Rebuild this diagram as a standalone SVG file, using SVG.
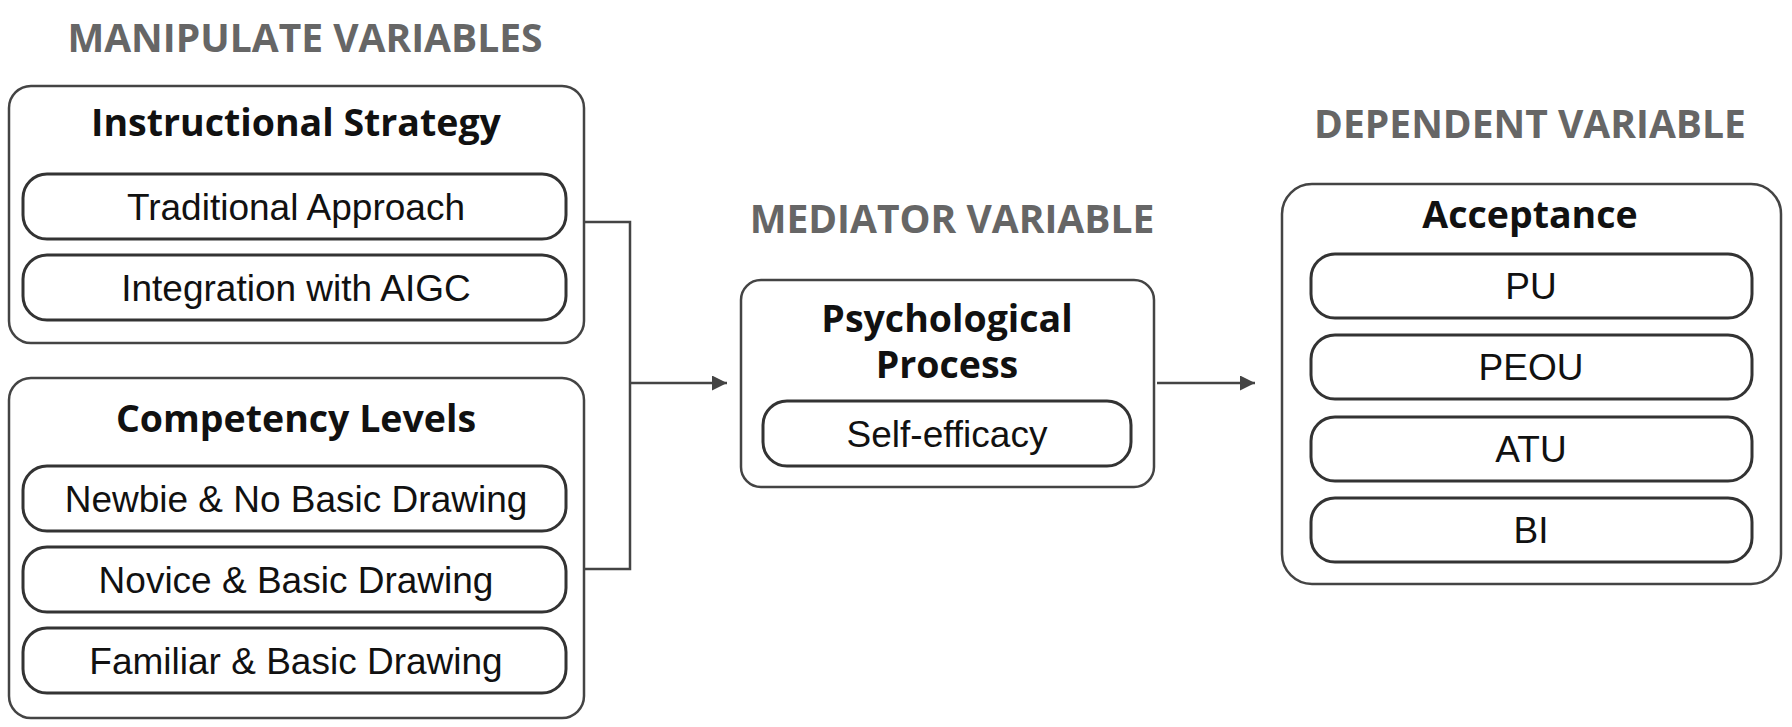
<svg xmlns="http://www.w3.org/2000/svg" width="1792" height="727" viewBox="0 0 1792 727">
<defs>
<style>
.head{font-family:"Open Sans","Liberation Sans",sans-serif;font-weight:700;font-size:39px;fill:#666;text-anchor:middle}
.title{font-family:"Open Sans","Liberation Sans",sans-serif;font-weight:700;font-size:37.5px;fill:#111;text-anchor:middle}
.item{font-family:"Liberation Sans",Arial,sans-serif;font-size:37px;fill:#111;text-anchor:middle}
.box{fill:#fff;stroke:#444;stroke-width:2.5}
.pill{fill:#fff;stroke:#333;stroke-width:3}
.conn{fill:none;stroke:#444;stroke-width:2.5}
</style>
<marker id="arr" viewBox="0 0 10 10" refX="10" refY="5" markerWidth="6" markerHeight="6" markerUnits="strokeWidth" orient="auto">
<path d="M0,0 L10,5 L0,10 z" fill="#444"/>
</marker>
</defs>
<rect width="1792" height="727" fill="#fff"/>
<text class="head" x="305" y="52">MANIPULATE VARIABLES</text>
<text class="head" x="952" y="233">MEDIATOR VARIABLE</text>
<text class="head" x="1530" y="138">DEPENDENT VARIABLE</text>
<g id="connectors">
<path class="conn" d="M584,222 H630 V569 H584"/>
<path class="conn" d="M630,383 H727" marker-end="url(#arr)"/>
<path class="conn" d="M1157,383 H1255" marker-end="url(#arr)"/>
</g>
<g id="instructional-strategy">
<rect class="box" x="9" y="86" width="575" height="257" rx="22"/>
<text class="title" x="296" y="136">Instructional Strategy</text>
<rect class="pill" x="23" y="174" width="543" height="65" rx="24"/>
<text class="item" x="296" y="220">Traditional Approach</text>
<rect class="pill" x="23" y="255" width="543" height="65" rx="24"/>
<text class="item" x="296" y="301">Integration with AIGC</text>
</g>
<g id="competency-levels">
<rect class="box" x="9" y="378" width="575" height="340" rx="22"/>
<text class="title" x="296" y="432">Competency Levels</text>
<rect class="pill" x="23" y="466" width="543" height="65" rx="24"/>
<text class="item" x="296" y="512">Newbie &amp; No Basic Drawing</text>
<rect class="pill" x="23" y="547" width="543" height="65" rx="24"/>
<text class="item" x="296" y="593">Novice &amp; Basic Drawing</text>
<rect class="pill" x="23" y="628" width="543" height="65" rx="24"/>
<text class="item" x="296" y="674">Familiar &amp; Basic Drawing</text>
</g>
<g id="psychological-process">
<rect class="box" x="741" y="280" width="413" height="207" rx="20"/>
<text class="title" x="947" y="332">Psychological</text>
<text class="title" x="947" y="378">Process</text>
<rect class="pill" x="763" y="401" width="368" height="65" rx="24"/>
<text class="item" x="947" y="447">Self-efficacy</text>
</g>
<g id="acceptance">
<rect class="box" x="1282" y="184" width="499" height="400" rx="30"/>
<text class="title" x="1530" y="228">Acceptance</text>
<rect class="pill" x="1311" y="254" width="441" height="64" rx="24"/>
<text class="item" x="1531" y="299">PU</text>
<rect class="pill" x="1311" y="335" width="441" height="64" rx="24"/>
<text class="item" x="1531" y="380">PEOU</text>
<rect class="pill" x="1311" y="417" width="441" height="64" rx="24"/>
<text class="item" x="1531" y="462">ATU</text>
<rect class="pill" x="1311" y="498" width="441" height="64" rx="24"/>
<text class="item" x="1531" y="543">BI</text>
</g>
</svg>
